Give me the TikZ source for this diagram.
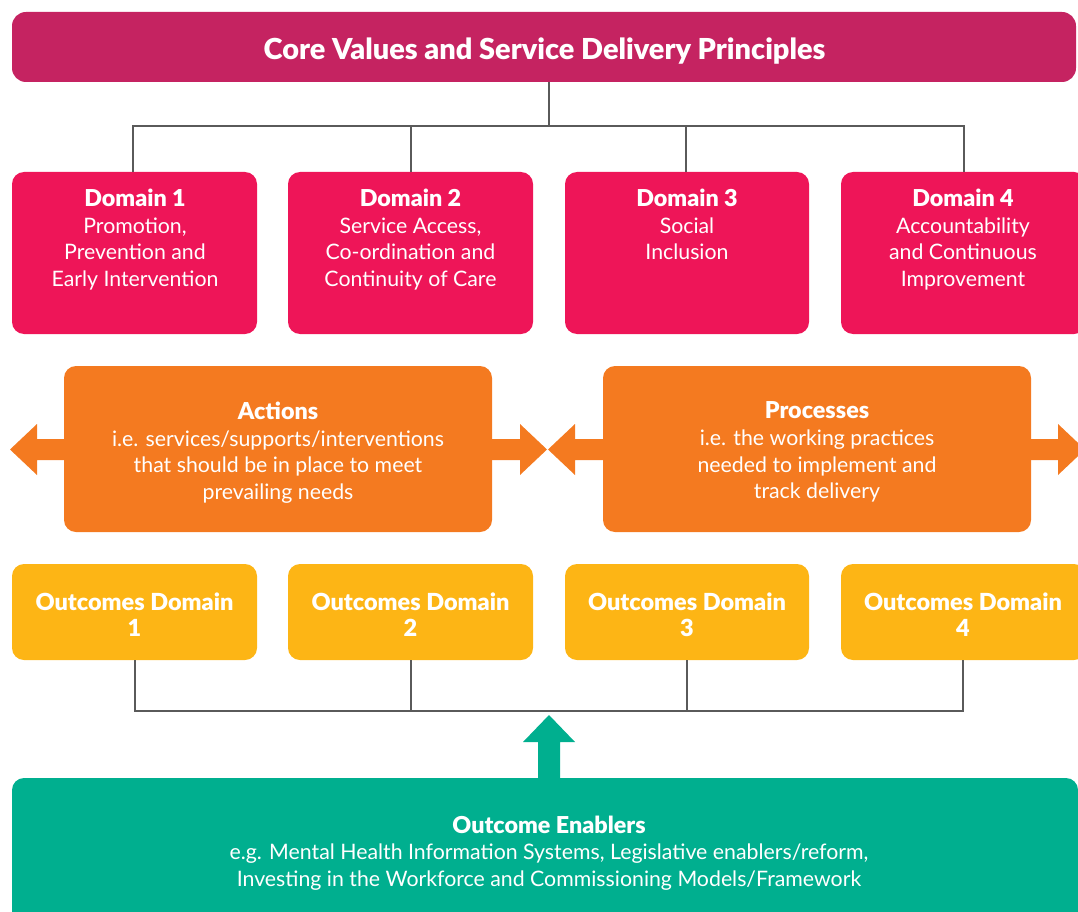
\documentclass[tikz,border=0pt]{standalone}
\usepackage{fontspec}
\setmainfont{Lato}
\IfFontExistsTF{Lato Black}{\newfontface\hv{Lato Black}}{\IfFontExistsTF{Lato Heavy}{\newfontface\hv{Lato Heavy}}{\newcommand\hv{\bfseries}}}
\usetikzlibrary{calc}
\definecolor{cTitle}{HTML}{C52361}
\definecolor{cDom}{HTML}{EE1558}
\definecolor{cOrg}{HTML}{F47A20}
\definecolor{cOut}{HTML}{FDB515}
\definecolor{cGrn}{HTML}{00AF8F}
\definecolor{cLine}{HTML}{5A5A5A}
\tikzset{
  box/.style={rounded corners=12pt, inner sep=0pt, draw=none},
  txt/.style={text=white, align=center, inner sep=0pt, font=\fontsize{21.3}{26.7}\selectfont},
  conn/.style={draw=cLine, line width=1.1pt},
  otxt/.style={txt, anchor=north, font=\hv\fontsize{23.5}{26.5}\selectfont},
}
\newcommand\hdr[1]{{\hv\fontsize{23.3}{26.7}\selectfont #1}}
\begin{document}
\begin{tikzpicture}[x=1pt,y=-1pt]
\useasboundingbox (0,0) rectangle (1078,912);
% title
\fill[cTitle, rounded corners=14pt] (12,12) rectangle (1076,82);
\node[txt, font=\hv\fontsize{28.9}{32}\selectfont] (title) at (544.5,51) {Core Values and Service Delivery Principles};
\coordinate (tb) at (549,82);
\coordinate (hub) at (549,126);
% domain and outcome boxes
\foreach \xa/\xb in {12/257, 288/533, 565/809, 841/1086}{
  \fill[cDom, box] (\xa,172) rectangle (\xb,334);
  \fill[cOut, box] (\xa,564) rectangle (\xb,660);
}
\coordinate (d1) at (133,172);
\coordinate (d2) at (411,172);
\coordinate (d3) at (686,172);
\coordinate (d4) at (964,172);
\coordinate (o1) at (135,660);
\coordinate (o2) at (411,660);
\coordinate (o3) at (687,660);
\coordinate (o4) at (963,660);
\node[txt, anchor=north] (dt1) at (135,188.6) {\hdr{Domain 1}\\Promotion,\\Prevention and\\Early Intervention};
\node[txt, anchor=north] (dt2) at (410.5,188.6) {\hdr{Domain 2}\\Service Access,\\Co-ordination and\\Continuity of Care};
\node[txt, anchor=north] (dt3) at (687,188.6) {\hdr{Domain 3}\\Social\\Inclusion};
\node[txt, anchor=north] (dt4) at (963,188.6) {\hdr{Domain 4}\\Accountability\\and Continuous\\Improvement};
% connectors top
\draw[conn] (tb) -- (hub);
\draw[conn] (d1) |- (hub) -| (d4);
\draw[conn] (d2) -- (d2 |- hub);
\draw[conn] (d3) -- (d3 |- hub);
% actions / processes
\fill[cOrg, box] (64,366) rectangle (492,532);
\fill[cOrg, box] (603,366) rectangle (1031,532);
\coordinate (actL) at (64,449.5);
\coordinate (actR) at (492,449.5);
\coordinate (prcL) at (603,449.5);
\coordinate (prcR) at (1031,449.5);
\node[txt, anchor=north] (act) at (278,401.6) {\hdr{Actions}\\i.e. services/supports/interventions\\that should be in place to meet\\prevailing needs};
\node[txt, anchor=north] (prc) at (817,401.6) {\hdr{Processes}\\i.e. the working practices\\needed to implement and\\track delivery};
\fill[cOrg] ($(actL)+(1,-10.5)$) -- ($(actL)+(-27,-10.5)$) -- ($(actL)+(-27,-25.5)$) -- ($(actL)+(-54,0)$) -- ($(actL)+(-27,25.5)$) -- ($(actL)+(-27,10.5)$) -- ($(actL)+(1,10.5)$) -- cycle;
\fill[cOrg] ($(actR)+(-1,-10.5)$) -- ($(actR)+(28,-10.5)$) -- ($(actR)+(28,-25.5)$) -- ($(actR)+(55,0)$) -- ($(actR)+(28,25.5)$) -- ($(actR)+(28,10.5)$) -- ($(actR)+(-1,10.5)$) -- cycle;
\fill[cOrg] ($(prcL)+(1,-10.5)$) -- ($(prcL)+(-28,-10.5)$) -- ($(prcL)+(-28,-25.5)$) -- ($(prcL)+(-55,0)$) -- ($(prcL)+(-28,25.5)$) -- ($(prcL)+(-28,10.5)$) -- ($(prcL)+(1,10.5)$) -- cycle;
\fill[cOrg] ($(prcR)+(-1,-10.5)$) -- ($(prcR)+(27,-10.5)$) -- ($(prcR)+(27,-25.5)$) -- ($(prcR)+(54,0)$) -- ($(prcR)+(27,25.5)$) -- ($(prcR)+(27,10.5)$) -- ($(prcR)+(-1,10.5)$) -- cycle;
% outcomes text
\node[otxt] (ot1) at (134.5,592.6) {Outcomes Domain\\1};
\node[otxt] (ot2) at (410.5,592.6) {Outcomes Domain\\2};
\node[otxt] (ot3) at (687,592.6) {Outcomes Domain\\3};
\node[otxt] (ot4) at (963,592.6) {Outcomes Domain\\4};
% bottom connectors
\coordinate (bh) at (549,711);
\draw[conn] (o1) |- (bh) -| (o4);
\draw[conn] (o2) -- (o2 |- bh);
\draw[conn] (o3) -- (o3 |- bh);
% enablers
\fill[cGrn, rounded corners=12pt] (12,778) rectangle (1078,940);
\coordinate (gt) at (549,779);
\fill[cGrn] ($(gt)+(-11,0)$) -- ($(gt)+(-11,-37)$) -- ($(gt)+(-26,-37)$) -- ($(gt)+(0,-64)$) -- ($(gt)+(26,-37)$) -- ($(gt)+(11,-37)$) -- ($(gt)+(11,0)$) -- cycle;
\node[txt, anchor=north] (en) at (549,815.6) {\hdr{Outcome Enablers}\\e.g. Mental Health Information Systems, Legislative enablers/reform,\\Investing in the Workforce and Commissioning Models/Framework};
\end{tikzpicture}
\end{document}
